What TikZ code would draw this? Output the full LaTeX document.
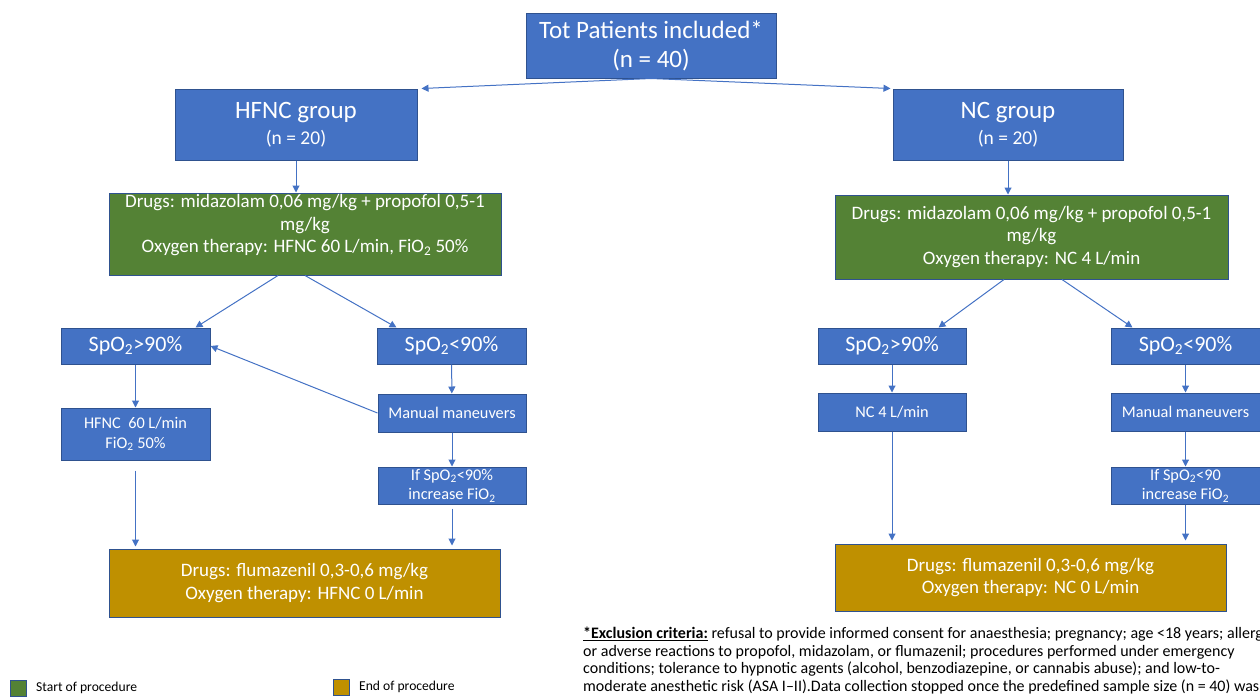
\documentclass[tikz,border=0pt]{standalone}
\usepackage{fontspec}
\setmainfont{Carlito}
\usetikzlibrary{arrows.meta,calc}

\definecolor{boxblue}{HTML}{4472C4}
\definecolor{boxline}{HTML}{2F528F}
\definecolor{startgreen}{HTML}{548235}
\definecolor{endgold}{HTML}{BF9000}
\definecolor{arrowblue}{HTML}{4472C4}

\tikzset{
	box/.style={draw=boxline,line width=1pt,fill=boxblue,text=white,align=center,inner sep=1pt},
	startbox/.style={box,fill=startgreen},
	endbox/.style={box,fill=endgold},
	flow/.style={draw=arrowblue,line width=1pt,-{Triangle[length=7pt,width=7pt]}},
	titletext/.style={font=\fontsize{25}{29}\selectfont},
	bigtext/.style={font=\fontsize{22}{25}\selectfont},
	midtext/.style={font=\fontsize{19}{22.5}\selectfont},
	smalltext/.style={font=\fontsize{16.3}{19.5}\selectfont},
}

\begin{document}
\begin{tikzpicture}[x=1pt,y=-1pt]
	\useasboundingbox (0,0) rectangle (1260,696);
	\clip (0,0) rectangle (1260,696);
	
	\node[box,titletext,minimum width=250,minimum height=65] (top) at (651,45.5) {Tot Patients included*\\(n = 40)};
	
	\node[box,titletext,minimum width=242,minimum height=71] (hfnc) at (296,124.5) {HFNC group\\[-3pt]{\fontsize{19.5}{22}\selectfont (n = 20)}};
	\node[box,titletext,minimum width=230,minimum height=71] (nc) at (1008,124.5) {NC group\\[-3pt]{\fontsize{19.5}{22}\selectfont (n = 20)}};
	
	% start of procedure
	\node[startbox,midtext,minimum width=392,minimum height=82,text depth=21pt] (drugshf) at (305,234) {Drugs: midazolam 0,06 mg/kg + propofol 0,5-1\\mg/kg\\Oxygen therapy: HFNC 60 L/min, FiO\textsubscript{2} 50\%};
	\node[startbox,midtext,minimum width=393,minimum height=84] (drugsnc) at (1031.5,237) {Drugs: midazolam 0,06 mg/kg + propofol 0,5-1\\mg/kg\\Oxygen therapy: NC 4 L/min};
	
	% HFNC branch
	\node[box,bigtext,minimum width=149,minimum height=36] (hihf) at (135.5,346) {SpO\textsubscript{2}>90\%};
	\node[box,bigtext,minimum width=149,minimum height=36] (lohf) at (451.5,346) {SpO\textsubscript{2}<90\%};
	\node[box,smalltext,minimum width=149,minimum height=52] (flowhf) at (135.5,434) {HFNC~ 60 L/min\\FiO\textsubscript{2} 50\%};
	\node[box,smalltext,minimum width=148,minimum height=38] (manhf) at (452,413) {Manual maneuvers};
	\node[box,smalltext,minimum width=148,minimum height=37] (ifhf) at (452,485.5) {If SpO\textsubscript{2}<90\%\\increase FiO\textsubscript{2}};
	
	% NC branch
	\node[box,bigtext,minimum width=148,minimum height=36] (hinc) at (892,346) {SpO\textsubscript{2}>90\%};
	\node[box,bigtext,minimum width=149,minimum height=36] (lonc) at (1185.5,346) {SpO\textsubscript{2}<90\%};
	\node[box,smalltext,minimum width=148,minimum height=38] (flownc) at (892,412) {NC 4 L/min};
	\node[box,smalltext,minimum width=149,minimum height=38] (mannc) at (1185.5,412) {Manual maneuvers};
	\node[box,smalltext,minimum width=149,minimum height=37] (ifnc) at (1185.5,485.5) {If SpO\textsubscript{2}<90\\increase FiO\textsubscript{2}};
	
	% end of procedure
	\node[endbox,midtext,minimum width=391,minimum height=68] (endhf) at (304.5,583) {Drugs: flumazenil 0,3-0,6 mg/kg\\Oxygen therapy: HFNC 0 L/min};
	\node[endbox,midtext,minimum width=391,minimum height=67] (endnc) at (1030.5,577.5) {Drugs: flumazenil 0,3-0,6 mg/kg\\Oxygen therapy: NC 0 L/min};
	
	\draw[flow] (top.south) -- ($(hfnc.north east)+(4,0)$);
	\draw[flow] (top.south) -- ($(nc.north west)+(-2,0)$);
	\draw[flow] (hfnc.south) -- (hfnc.south |- drugshf.north);
	\draw[flow] (nc.south) -- (nc.south |- drugsnc.north);
	
	\draw[flow] ($(drugshf.south)+(-27,0)$) -- ($(hihf.north east)+(-15,0)$);
	\draw[flow] (drugshf.south) -- ($(lohf.north west)+(20,0)$);
	\draw[flow] ($(drugsnc.south)+(-27.5,0)$) -- ($(hinc.north east)+(-28,0)$);
	\draw[flow] ($(drugsnc.south)+(30.5,0)$) -- ($(lonc.north west)+(22,0)$);
	
	\draw[flow] (hihf) -- (flowhf);
	\draw[flow] (lohf) -- (manhf);
	\draw[flow] (manhf.west) -- (hihf.east);
	\draw[flow] (manhf) -- (ifhf);
	\draw[flow,shorten <=10pt,shorten >=2pt] (flowhf.south) -- (flowhf.south |- endhf.north);
	\draw[flow,shorten <=4pt,shorten >=3pt] (ifhf.south) -- (ifhf.south |- endhf.north);
	
	\draw[flow] (hinc) -- (flownc);
	\draw[flow] (lonc) -- (mannc);
	\draw[flow] (mannc) -- (ifnc);
	\draw[flow,shorten >=3pt] (flownc.south) -- (flownc.south |- endnc.north);
	\draw[flow,shorten >=3pt] (ifnc.south) -- (ifnc.south |- endnc.north);
	
	% footnote
	\node[anchor=north west,align=left,inner sep=0pt,font=\fontsize{16}{17.5}\selectfont] (excl) at (583,627) {\textbf{\underline{*Exclusion criteria:}} refusal to provide informed consent for anaesthesia; pregnancy; age <18 years; allergies\\or adverse reactions to propofol, midazolam, or flumazenil; procedures performed under emergency\\conditions; tolerance to hypnotic agents (alcohol, benzodiazepine, or cannabis abuse); and low-to-\\moderate anesthetic risk (ASA I--II).Data collection stopped once the predefined sample size (n = 40) was reached.};
	
	% legend
	\node[draw=boxline,line width=0.8pt,fill=startgreen,minimum size=16,inner sep=0pt] (keystart) at (18.5,688) {};
	\node[anchor=west,inner sep=0pt,font=\fontsize{13.6}{16}\selectfont] (keystarttxt) at (36,688) {Start of procedure};
	\node[draw=boxline,line width=0.8pt,fill=endgold,minimum size=16,inner sep=0pt] (keyend) at (341,687) {};
	\node[anchor=west,inner sep=0pt,font=\fontsize{13.6}{16}\selectfont] (keyendtxt) at (359,687) {End of procedure};
\end{tikzpicture}
\end{document}
